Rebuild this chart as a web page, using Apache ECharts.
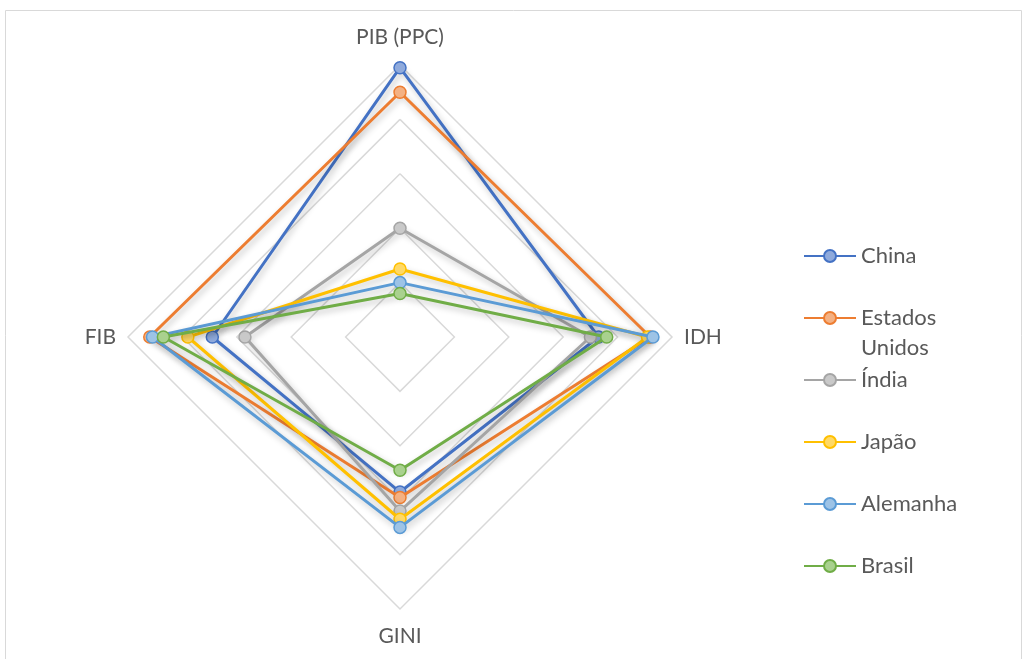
<!DOCTYPE html>
<html>
<head>
<meta charset="utf-8">
<script src="https://cdn.jsdelivr.net/npm/echarts@6/dist/echarts.min.js"></script>
<style>html,body{margin:0;padding:0;background:#fff}#c{width:1027px;height:659px}</style>
</head>
<body>
<div id="c"></div>
<script>
// Indicators in counter-clockwise order starting at top
const indicators = ['PIB (PPC)', 'FIB', 'GINI', 'IDH'];
const seriesNames = ['China', 'Estados Unidos', 'Índia', 'Japão', 'Alemanha', 'Brasil'];
const china = [99, 69, 57, 73];
const estadosUnidos = [90, 92, 59, 92];
const india = [40, 57, 64, 70];
const japao = [25, 78, 67, 91];
const alemanha = [20, 91, 70, 93];
const brasil = [16, 87, 49, 76];
const values = [china, estadosUnidos, india, japao, alemanha, brasil];

const lineColors = ['#4472C4', '#ED7D31', '#A5A5A5', '#FFC000', '#5B9BD5', '#70AD47'];
const fillColors = ['#8FAADC', '#F4B183', '#C9C9C9', '#FFD966', '#9DC3E6', '#A9D18E'];
const FONT = 'Lato, "Open Sans", sans-serif';

const chart = echarts.init(document.getElementById('c'), null, {renderer: 'canvas'});

// Legend-only line series (empty) so legend icons show line + marker
const legendSeries = seriesNames.map((name, i) => ({
  type: 'line',
  name: name,
  data: [],
  symbol: 'circle',
  itemStyle: {color: fillColors[i], borderColor: lineColors[i], borderWidth: 1.5},
  lineStyle: {color: lineColors[i], width: 3}
}));

const radarSeries = seriesNames.map((name, i) => ({
  type: 'radar',
  name: name,
  symbol: 'circle',
  symbolSize: 12,
  z: 2 + i,
  itemStyle: {color: fillColors[i], borderColor: lineColors[i], borderWidth: 1.5},
  lineStyle: {color: lineColors[i], width: 3, shadowColor: 'rgba(0,0,0,0.25)', shadowBlur: 6, shadowOffsetX: 2, shadowOffsetY: 3},
  emphasis: {disabled: true},
  data: [{name: name, value: values[i]}]
}));

const legendCenters = [256, 318, 380, 442, 504, 566];
const legends = seriesNames.map((name, i) => {
  const isUS = name === 'Estados Unidos';
  return {
    data: [name],
    orient: 'vertical',
    left: 803,
    top: isUS ? legendCenters[i] - 45 : legendCenters[i] - 13,
    padding: 0,
    itemWidth: 52,
    itemHeight: 15,
    itemGap: 0,
    selectedMode: false,
    formatter: isUS ? ' \nEstados\nUnidos' : '{name}',
    textStyle: {color: '#595959', fontSize: 22, fontFamily: FONT, lineHeight: isUS ? 30 : 26}
  };
});

const nameRich = {
  t: {color: '#595959', fontSize: 21, fontFamily: FONT, padding: [0, 0, 5, 0]},
  l: {color: '#595959', fontSize: 21, fontFamily: FONT},
  b: {color: '#595959', fontSize: 21, fontFamily: FONT, padding: [5, 0, 0, 0]},
  r: {color: '#595959', fontSize: 21, fontFamily: FONT}
};
const nameKeys = {'PIB (PPC)': 't', 'FIB': 'l', 'GINI': 'b', 'IDH': 'r'};

chart.setOption({
  animation: false,
  graphic: [{
    type: 'rect',
    shape: {x: 5.5, y: 10.5, width: 1016, height: 660},
    style: {fill: 'none', stroke: '#D9D9D9', lineWidth: 1},
    silent: true
  }],
  grid: {left: 0, top: 0, width: 1, height: 1, show: false},
  xAxis: {type: 'category', show: false, data: []},
  yAxis: {type: 'value', show: false},
  legend: legends,
  radar: {
    center: [400, 337],
    radius: 272,
    startAngle: 90,
    shape: 'polygon',
    splitNumber: 5,
    nameGap: 12,
    indicator: indicators.map(n => ({name: n, min: 0, max: 100})),
    axisName: {
      color: '#595959', fontSize: 21, fontFamily: FONT,
      formatter: (n) => '{' + nameKeys[n] + '|' + n + '}',
      rich: nameRich
    },
    axisLine: {show: false},
    axisTick: {show: false},
    axisLabel: {show: false},
    splitArea: {show: false},
    splitLine: {lineStyle: {color: '#D9D9D9', width: 1.5}}
  },
  series: legendSeries.concat(radarSeries)
});
</script>
</body>
</html>
